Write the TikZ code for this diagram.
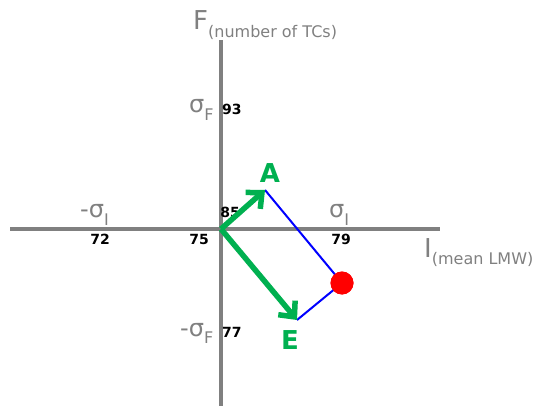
\documentclass[tikz,border=0pt]{standalone}
\usepackage{fontspec}
\setmainfont{DejaVu Sans}
\usetikzlibrary{arrows.meta}
\definecolor{axisGray}{RGB}{128,128,128}
\definecolor{vecGreen}{RGB}{0,176,80}
\newcommand{\lowtext}[1]{\raisebox{-0.3em}{\fontsize{16}{16}\selectfont #1}}

\begin{document}
\begin{tikzpicture}[
  x=1pt, y=-1pt,
  axis/.style={draw=axisGray, line width=4pt},
  axislabel/.style={text=axisGray, inner sep=0pt, anchor=base west, font=\fontsize{26}{28}\selectfont},
  sigmalabel/.style={text=axisGray, inner sep=0pt, anchor=base west, font=\fontsize{24}{26}\selectfont},
  value/.style={inner sep=0pt, anchor=base, font=\fontsize{14}{16}\selectfont\bfseries},
  vec/.style={draw=vecGreen, line width=5.5pt, -{Straight Barb[length=12pt, width=22pt, line width=5.5pt]}},
  veclabel/.style={text=vecGreen, inner sep=0pt, font=\fontsize{26}{28}\selectfont\bfseries},
  side/.style={draw=blue, line width=2pt}
]
\useasboundingbox (0,0) rectangle (538,406);

% Axes.
\coordinate (o) at (221,229);
\coordinate (xl) at (10,229);
\coordinate (xr) at (440,229);
\coordinate (yt) at (221,40);
\coordinate (yb) at (221,406);
\draw[axis] (xl) -- (xr);
\draw[axis] (yt) -- (yb);

\node[axislabel] (flab) at (193,30) {F\lowtext{(number of TCs)}};
\node[axislabel] (ilab) at (424,257) {I\lowtext{(mean LMW)}};

% Standard deviation marks with their values.
\node[sigmalabel] (sfp) at (189,113) {σ\lowtext{F}};
\node[value, anchor=base west] (v93) at (222,115) {93};
\node[sigmalabel] (sfm) at (180,336) {-σ\lowtext{F}};
\node[value, anchor=base west] (v77) at (222,337) {77};
\node[sigmalabel] (sim) at (80,218) {-σ\lowtext{I}};
\node[value] (v72) at (100,244) {72};
\node[sigmalabel] (sip) at (329,218) {σ\lowtext{I}};
\node[value] (v79) at (341,244) {79};
\node[value] (v75) at (199,244) {75};
\node[value] (v85) at (230,218) {85};

% Vectors and the point they span.
\coordinate (ta) at (265,190);
\coordinate (te) at (297,320);
\node[circle, fill=red, minimum size=23pt, inner sep=0pt] (pt) at (342,283) {};
\draw[side] (ta) -- (pt.center);
\draw[side] (te) -- (pt.center);
\node[circle, fill=red, minimum size=23pt, inner sep=0pt] at (pt) {};
\draw[vec] (o) -- (ta);
\draw[vec] (o) -- (te);
\node[veclabel] (alab) at (270,173) {A};
\node[veclabel] (elab) at (290,340) {E};

\end{tikzpicture}
\end{document}
